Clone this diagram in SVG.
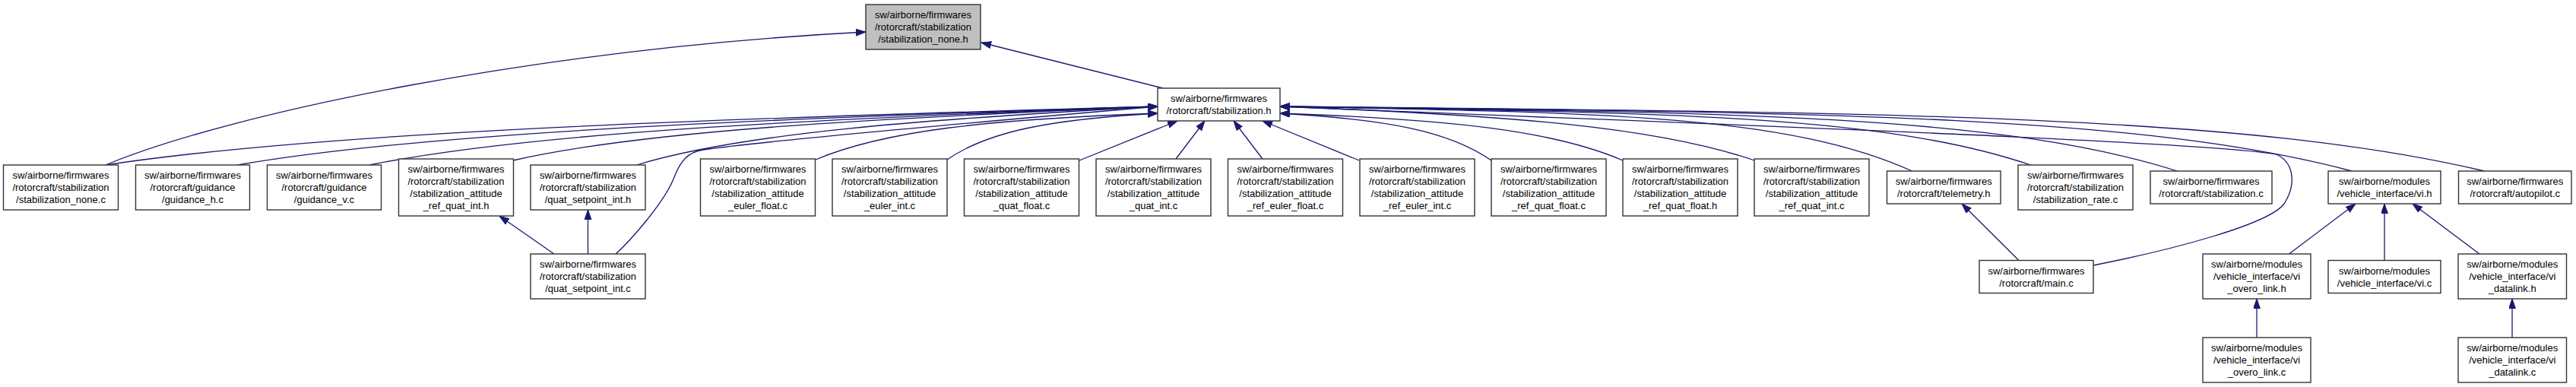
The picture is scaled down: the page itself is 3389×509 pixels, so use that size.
<svg xmlns="http://www.w3.org/2000/svg" width="3389" height="509" viewBox="0 0 3389 509">
<style>
.b{fill:#ffffff;stroke:#333333;stroke-width:1.4}
.g{fill:#bfbfbf;stroke:#333333;stroke-width:1.4}
text{font-family:"Liberation Sans",Arial,sans-serif;font-size:13px;fill:#000000;text-anchor:middle}
.e{fill:none;stroke:#191970;stroke-width:1.3;marker-end:url(#arr)}
</style>
<defs>
<marker id="arr" markerUnits="userSpaceOnUse" markerWidth="16" markerHeight="12" refX="13" refY="4.5" orient="auto">
<path d="M0,0 L13,4.5 L0,9 Z" fill="#191970" stroke="#191970" stroke-width="1"/>
</marker>
</defs>
<rect width="3389" height="509" fill="#ffffff"/>
<g id="connectors">
<path class="e" d="M139,217 C300,150 700,65 1139,42"/>
<path class="e" d="M1530,116 L1291,56"/>
<path class="e" d="M139,217 C416,175 900,157 1523,140"/>
<path class="e" d="M312.5,217 C555,175 978,157 1523,140"/>
<path class="e" d="M486,217 C693,175 1056,157 1523,140"/>
<path class="e" d="M675,211 C845,172 1141,156 1523,140"/>
<path class="e" d="M837.5,217 C975,175 1214,157 1523,140"/>
<path class="e" d="M810,334 C830,316 875,265 887,233 C895,212 905,200 925,197 C1000,186 1350,155 1523,140"/>
<path class="e" d="M1073,210 C1163,172 1298,157 1523,149"/>
<path class="e" d="M1246,210 C1301,172 1384,157 1523,149"/>
<path class="e" d="M1420,211 L1549,159"/>
<path class="e" d="M1547,209 L1585,159"/>
<path class="e" d="M1661,209 L1623,159"/>
<path class="e" d="M1788,211 L1661,159"/>
<path class="e" d="M1962,211 C1906,172 1823,157 1684,149"/>
<path class="e" d="M2135,211 C2045,172 1910,157 1684,149"/>
<path class="e" d="M2308,211 C2183,168 1996,152 1684,140"/>
<path class="e" d="M2515.5,225 C2349,150 2100,148 1684,140"/>
<path class="e" d="M2671.5,217 C2474,150 2178,148 1684,140"/>
<path class="e" d="M2864.5,225 C2628,150 2274,148 1684,140"/>
<path class="e" d="M3094,225 C2812,150 2389,148 1684,140"/>
<path class="e" d="M3268.5,225 C2952,150 2476,148 1684,140"/>
<path class="e" d="M2754,349 C2860,328 2985,295 3005,268 C3020,245 3020,215 2995,203 C2900,185 2100,158 1684,140"/>
<path class="e" d="M729,334 L657,284"/>
<path class="e" d="M773.5,334 L773.5,276"/>
<path class="e" d="M2656,342.5 L2581,268"/>
<path class="e" d="M3011.5,334 L3099,268"/>
<path class="e" d="M3137,342.5 L3137,268"/>
<path class="e" d="M3262,334 L3174,268"/>
<path class="e" d="M2969,444 L2969,393"/>
<path class="e" d="M3305,444 L3305,393"/>
</g>
<g id="stabilization_none_h"><rect class="g" x="1139" y="6" width="151" height="59"/><text x="1214.5" y="24">sw/airborne/firmwares<tspan x="1214.5" dy="16">/rotorcraft/stabilization</tspan><tspan x="1214.5" dy="16">/stabilization_none.h</tspan></text></g>
<g id="stabilization_h"><rect class="b" x="1523" y="116" width="161" height="43"/><text x="1603.5" y="134">sw/airborne/firmwares<tspan x="1603.5" dy="16">/rotorcraft/stabilization.h</tspan></text></g>
<g id="stabilization_none_c"><rect class="b" x="4.5" y="217" width="151" height="59"/><text x="80" y="235">sw/airborne/firmwares<tspan x="80" dy="16">/rotorcraft/stabilization</tspan><tspan x="80" dy="16">/stabilization_none.c</tspan></text></g>
<g id="guidance_h_c"><rect class="b" x="178.5" y="217" width="150" height="59"/><text x="253.5" y="235">sw/airborne/firmwares<tspan x="253.5" dy="16">/rotorcraft/guidance</tspan><tspan x="253.5" dy="16">/guidance_h.c</tspan></text></g>
<g id="guidance_v_c"><rect class="b" x="351.5" y="217" width="150" height="59"/><text x="426.5" y="235">sw/airborne/firmwares<tspan x="426.5" dy="16">/rotorcraft/guidance</tspan><tspan x="426.5" dy="16">/guidance_v.c</tspan></text></g>
<g id="ref_quat_int_h"><rect class="b" x="524.5" y="209" width="151" height="75"/><text x="600" y="227">sw/airborne/firmwares<tspan x="600" dy="16">/rotorcraft/stabilization</tspan><tspan x="600" dy="16">/stabilization_attitude</tspan><tspan x="600" dy="16">_ref_quat_int.h</tspan></text></g>
<g id="quat_setpoint_int_h"><rect class="b" x="698" y="217" width="151" height="59"/><text x="773.5" y="235">sw/airborne/firmwares<tspan x="773.5" dy="16">/rotorcraft/stabilization</tspan><tspan x="773.5" dy="16">/quat_setpoint_int.h</tspan></text></g>
<g id="euler_float_c"><rect class="b" x="921.5" y="209" width="151" height="75"/><text x="997" y="227">sw/airborne/firmwares<tspan x="997" dy="16">/rotorcraft/stabilization</tspan><tspan x="997" dy="16">/stabilization_attitude</tspan><tspan x="997" dy="16">_euler_float.c</tspan></text></g>
<g id="euler_int_c"><rect class="b" x="1095" y="209" width="151" height="75"/><text x="1170.5" y="227">sw/airborne/firmwares<tspan x="1170.5" dy="16">/rotorcraft/stabilization</tspan><tspan x="1170.5" dy="16">/stabilization_attitude</tspan><tspan x="1170.5" dy="16">_euler_int.c</tspan></text></g>
<g id="quat_float_c"><rect class="b" x="1268.5" y="209" width="151" height="75"/><text x="1344" y="227">sw/airborne/firmwares<tspan x="1344" dy="16">/rotorcraft/stabilization</tspan><tspan x="1344" dy="16">/stabilization_attitude</tspan><tspan x="1344" dy="16">_quat_float.c</tspan></text></g>
<g id="quat_int_c"><rect class="b" x="1442" y="209" width="151" height="75"/><text x="1517.5" y="227">sw/airborne/firmwares<tspan x="1517.5" dy="16">/rotorcraft/stabilization</tspan><tspan x="1517.5" dy="16">/stabilization_attitude</tspan><tspan x="1517.5" dy="16">_quat_int.c</tspan></text></g>
<g id="ref_euler_float_c"><rect class="b" x="1615.5" y="209" width="151" height="75"/><text x="1691" y="227">sw/airborne/firmwares<tspan x="1691" dy="16">/rotorcraft/stabilization</tspan><tspan x="1691" dy="16">/stabilization_attitude</tspan><tspan x="1691" dy="16">_ref_euler_float.c</tspan></text></g>
<g id="ref_euler_int_c"><rect class="b" x="1789" y="209" width="151" height="75"/><text x="1864.5" y="227">sw/airborne/firmwares<tspan x="1864.5" dy="16">/rotorcraft/stabilization</tspan><tspan x="1864.5" dy="16">/stabilization_attitude</tspan><tspan x="1864.5" dy="16">_ref_euler_int.c</tspan></text></g>
<g id="ref_quat_float_c"><rect class="b" x="1962" y="209" width="151" height="75"/><text x="2037.5" y="227">sw/airborne/firmwares<tspan x="2037.5" dy="16">/rotorcraft/stabilization</tspan><tspan x="2037.5" dy="16">/stabilization_attitude</tspan><tspan x="2037.5" dy="16">_ref_quat_float.c</tspan></text></g>
<g id="ref_quat_float_h"><rect class="b" x="2135" y="209" width="151" height="75"/><text x="2210.5" y="227">sw/airborne/firmwares<tspan x="2210.5" dy="16">/rotorcraft/stabilization</tspan><tspan x="2210.5" dy="16">/stabilization_attitude</tspan><tspan x="2210.5" dy="16">_ref_quat_float.h</tspan></text></g>
<g id="ref_quat_int_c"><rect class="b" x="2308" y="209" width="151" height="75"/><text x="2383.5" y="227">sw/airborne/firmwares<tspan x="2383.5" dy="16">/rotorcraft/stabilization</tspan><tspan x="2383.5" dy="16">/stabilization_attitude</tspan><tspan x="2383.5" dy="16">_ref_quat_int.c</tspan></text></g>
<g id="telemetry_h"><rect class="b" x="2482.5" y="225" width="149.5" height="43"/><text x="2557.25" y="243">sw/airborne/firmwares<tspan x="2557.25" dy="16">/rotorcraft/telemetry.h</tspan></text></g>
<g id="stabilization_rate_c"><rect class="b" x="2655" y="217" width="151" height="59"/><text x="2730.5" y="235">sw/airborne/firmwares<tspan x="2730.5" dy="16">/rotorcraft/stabilization</tspan><tspan x="2730.5" dy="16">/stabilization_rate.c</tspan></text></g>
<g id="stabilization_c"><rect class="b" x="2829" y="225" width="160" height="43"/><text x="2909" y="243">sw/airborne/firmwares<tspan x="2909" dy="16">/rotorcraft/stabilization.c</tspan></text></g>
<g id="vi_h"><rect class="b" x="3063" y="225" width="148" height="43"/><text x="3137" y="243">sw/airborne/modules<tspan x="3137" dy="16">/vehicle_interface/vi.h</tspan></text></g>
<g id="autopilot_c"><rect class="b" x="3234.5" y="225" width="148.5" height="43"/><text x="3308.75" y="243">sw/airborne/firmwares<tspan x="3308.75" dy="16">/rotorcraft/autopilot.c</tspan></text></g>
<g id="quat_setpoint_int_c"><rect class="b" x="698" y="334" width="151" height="59"/><text x="773.5" y="352">sw/airborne/firmwares<tspan x="773.5" dy="16">/rotorcraft/stabilization</tspan><tspan x="773.5" dy="16">/quat_setpoint_int.c</tspan></text></g>
<g id="main_c"><rect class="b" x="2604" y="342.5" width="150" height="43"/><text x="2679" y="360.5">sw/airborne/firmwares<tspan x="2679" dy="16">/rotorcraft/main.c</tspan></text></g>
<g id="vi_overo_link_h"><rect class="b" x="2898" y="334" width="142" height="59"/><text x="2969" y="352">sw/airborne/modules<tspan x="2969" dy="16">/vehicle_interface/vi</tspan><tspan x="2969" dy="16">_overo_link.h</tspan></text></g>
<g id="vi_c"><rect class="b" x="3063" y="342.5" width="148" height="43"/><text x="3137" y="360.5">sw/airborne/modules<tspan x="3137" dy="16">/vehicle_interface/vi.c</tspan></text></g>
<g id="vi_datalink_h"><rect class="b" x="3234" y="334" width="142.5" height="59"/><text x="3305.25" y="352">sw/airborne/modules<tspan x="3305.25" dy="16">/vehicle_interface/vi</tspan><tspan x="3305.25" dy="16">_datalink.h</tspan></text></g>
<g id="vi_overo_link_c"><rect class="b" x="2898" y="444" width="142" height="59"/><text x="2969" y="461.5">sw/airborne/modules<tspan x="2969" dy="16">/vehicle_interface/vi</tspan><tspan x="2969" dy="16">_overo_link.c</tspan></text></g>
<g id="vi_datalink_c"><rect class="b" x="3234" y="444" width="142.5" height="59"/><text x="3305.25" y="461.5">sw/airborne/modules<tspan x="3305.25" dy="16">/vehicle_interface/vi</tspan><tspan x="3305.25" dy="16">_datalink.c</tspan></text></g>
</svg>
